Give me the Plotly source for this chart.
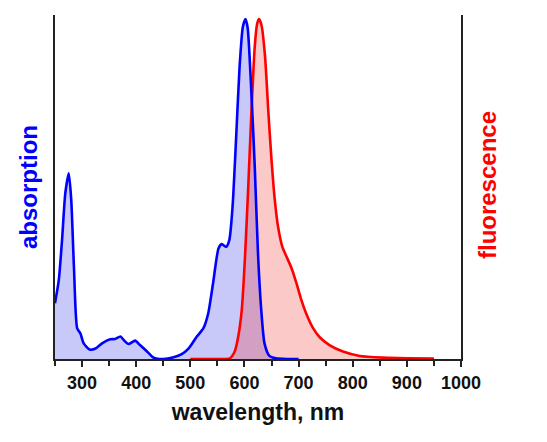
import plotly.graph_objects as go

# Absorption spectrum (normalized)
abs_wl = [250, 257, 263, 269, 275.5, 280, 285, 291, 297, 303, 314, 325, 337, 352, 361, 371, 378, 386,
          398, 407, 420, 432, 450, 469, 484, 497, 512, 524, 533, 542, 552, 558, 566, 572, 578, 585,
          591, 597, 602, 606, 612, 619, 625, 631, 637, 646, 658, 680, 700]
abs_val = [0.164, 0.232, 0.35, 0.487, 0.546, 0.468, 0.27, 0.09, 0.075, 0.046, 0.028, 0.031, 0.046,
           0.058, 0.059, 0.066, 0.054, 0.044, 0.054, 0.041, 0.022, 0.004, 0.0, 0.005, 0.014, 0.031,
           0.066, 0.09, 0.134, 0.223, 0.325, 0.338, 0.33, 0.35, 0.448, 0.664, 0.86, 0.977, 1.0,
           0.973, 0.81, 0.566, 0.31, 0.144, 0.046, 0.009, 0.002, 0.0, 0.0]

# Fluorescence spectrum (normalized)
fl_wl = [500, 540, 573, 582, 588.5, 595, 601, 607, 613, 619, 623.5, 627, 631.5, 638, 644, 650, 656,
         662, 670, 678, 687, 696, 705, 714, 727, 739, 757, 782, 813, 856, 900, 950]
fl_val = [0.0, 0.0, 0.002, 0.022, 0.066, 0.144, 0.30, 0.507, 0.732, 0.919, 0.987, 1.0, 0.982, 0.89,
          0.73, 0.585, 0.468, 0.39, 0.33, 0.30, 0.267, 0.223, 0.174, 0.134, 0.09, 0.064, 0.041,
          0.022, 0.009, 0.004, 0.002, 0.001]

x_ticks = [300, 400, 500, 600, 700, 800, 900, 1000]

FONT = "Arial, Liberation Sans, sans-serif"

fig = go.Figure()
fig.add_trace(go.Scatter(x=abs_wl, y=abs_val, mode="lines",
                         line=dict(color="rgba(0,0,255,0)", shape="spline", smoothing=0.6),
                         fill="tozeroy", fillcolor="rgba(40,40,230,0.25)", hoverinfo="skip"))
fig.add_trace(go.Scatter(x=fl_wl, y=fl_val, mode="lines",
                         line=dict(color="rgba(255,0,0,0)", shape="spline", smoothing=0.6),
                         fill="tozeroy", fillcolor="rgba(245,40,40,0.25)", hoverinfo="skip"))
fig.add_trace(go.Scatter(x=fl_wl, y=fl_val, mode="lines",
                         line=dict(color="#ff0000", width=2.6, shape="spline", smoothing=0.6)))
fig.add_trace(go.Scatter(x=abs_wl, y=abs_val, mode="lines",
                         line=dict(color="#0000ff", width=2.6, shape="spline", smoothing=0.6)))

fig.update_layout(
    width=547, height=442,
    margin=dict(l=55, r=86, t=15, b=83),
    paper_bgcolor="white", plot_bgcolor="white",
    showlegend=False,
    font=dict(family=FONT, color="black"),
    xaxis=dict(range=[250, 1000], tickvals=x_ticks, ticks="outside", ticklen=6, tickwidth=1.5,
               tickcolor="#222", showline=True, linecolor="#222", linewidth=2, showgrid=False,
               zeroline=False,
               tickfont=dict(family=FONT, size=18, weight="bold", color="#111"),
               minor=dict(dtick=50, tick0=0, ticks="outside", ticklen=5, tickwidth=1.5,
                          tickcolor="#222", showgrid=False),
               title=dict(text="wavelength, nm", standoff=12,
                          font=dict(family=FONT, size=23, weight="bold", color="#111"))),
    yaxis=dict(range=[0, 1.012], showline=True, mirror=True, linecolor="#222", linewidth=2,
               showticklabels=False, ticks="", showgrid=False, zeroline=False),
    annotations=[
        dict(text="absorption", x=28, y=187, xref="paper", yref="paper", showarrow=False,
             xanchor="center", yanchor="middle",
             textangle=-90, font=dict(family=FONT, size=24, weight="bold", color="#0000ff")),
        dict(text="fluorescence", x=487, y=185, xref="paper", yref="paper", showarrow=False,
             xanchor="center", yanchor="middle",
             textangle=-90, font=dict(family=FONT, size=24, weight="bold", color="#ff0000")),
    ],
)

# convert pixel anchors to paper coords
pw = 547 - 55 - 86
ph = 442 - 15 - 83
for a in fig.layout.annotations:
    a.x = (a.x - 55) / pw
    a.y = (442 - 83 - a.y) / ph

fig.write_html("out.html")
